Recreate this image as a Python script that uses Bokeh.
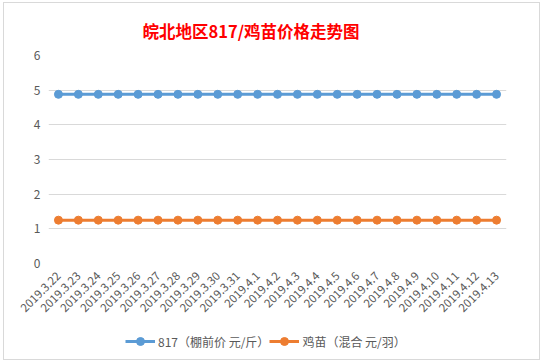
import math
from bokeh.plotting import figure
from bokeh.layouts import column
from bokeh.models import Legend, LegendItem, Range1d, FixedTicker
from bokeh.embed import file_html
from bokeh.resources import INLINE

dates = ["2019.3.22", "2019.3.23", "2019.3.24", "2019.3.25", "2019.3.26",
         "2019.3.27", "2019.3.28", "2019.3.29", "2019.3.30", "2019.3.31",
         "2019.4.1", "2019.4.2", "2019.4.3", "2019.4.4", "2019.4.5",
         "2019.4.6", "2019.4.7", "2019.4.8", "2019.4.9", "2019.4.10",
         "2019.4.11", "2019.4.12", "2019.4.13"]
price_817 = [4.88, 4.88, 4.88, 4.88, 4.88, 4.88, 4.88, 4.88, 4.88, 4.88,
             4.88, 4.88, 4.88, 4.88, 4.88, 4.88, 4.88, 4.88, 4.88, 4.88,
             4.88, 4.88, 4.88]
price_chick = [1.25, 1.25, 1.25, 1.25, 1.25, 1.25, 1.25, 1.25, 1.25, 1.25,
               1.25, 1.25, 1.25, 1.25, 1.25, 1.25, 1.25, 1.25, 1.25, 1.25,
               1.25, 1.25, 1.25]
y_ticks = [0, 1, 2, 3, 4, 5, 6]
series_names = ["817（棚前价 元/斤）", "鸡苗（混合 元/羽）"]
title_text = "皖北地区817/鸡苗价格走势图"

BLUE = "#5B9BD5"
ORANGE = "#ED7D31"
GRAY = "#595959"
FONT = "Noto Sans CJK SC"

p = figure(width=535, height=326, x_range=dates, y_range=Range1d(0, 6),
           output_backend="svg", toolbar_location=None,
           min_border_left=44, min_border_right=33, min_border_top=52,
           min_border_bottom=66)

p.title.text = title_text
p.title.text_color = "#FF0000"
p.title.text_font = FONT
p.title.text_font_size = "16.5px"
p.title.text_font_style = "bold"
p.title.align = "left"
p.title.offset = 94
p.title.standoff = 26

p.outline_line_color = None
p.xgrid.grid_line_color = None
p.ygrid.grid_line_color = "#d9d9d9"
p.ygrid.grid_line_width = 1

p.yaxis.ticker = FixedTicker(ticks=y_ticks)
p.yaxis.axis_line_color = None
p.yaxis.major_tick_line_color = None
p.yaxis.minor_tick_line_color = None
p.yaxis.major_tick_out = 0
p.yaxis.major_label_text_color = GRAY
p.yaxis.major_label_text_font = FONT
p.yaxis.major_label_text_font_size = "12px"
p.yaxis.major_label_standoff = 8

p.xaxis.axis_line_color = None
p.xaxis.major_tick_line_color = None
p.xaxis.major_tick_out = 0
p.xaxis.major_label_orientation = math.pi / 4
p.xaxis.major_label_text_color = GRAY
p.xaxis.major_label_text_font = FONT
p.xaxis.major_label_text_font_size = "11.5px"
p.xaxis.major_label_standoff = 10

l1 = p.line(dates, price_817, line_color=BLUE, line_width=3)
s1 = p.scatter(dates, price_817, size=8, fill_color=BLUE, line_color=BLUE)
l2 = p.line(dates, price_chick, line_color=ORANGE, line_width=3)
s2 = p.scatter(dates, price_chick, size=8, fill_color=ORANGE, line_color=ORANGE)

# legend strip below the chart: same series, drawn outside its visible range
lp = figure(width=535, height=30, output_backend="svg", toolbar_location=None,
            x_range=p.x_range, y_range=Range1d(100, 101),
            x_axis_type=None, y_axis_type=None, min_border=0)
lp.outline_line_color = None
ll1 = lp.line(dates, price_817, line_color=BLUE, line_width=3)
ls1 = lp.scatter(dates, price_817, size=8, fill_color=BLUE, line_color=BLUE)
ll2 = lp.line(dates, price_chick, line_color=ORANGE, line_width=3)
ls2 = lp.scatter(dates, price_chick, size=8, fill_color=ORANGE, line_color=ORANGE)

legend = Legend(items=[LegendItem(label=series_names[0], renderers=[ll1, ls1]),
                       LegendItem(label=series_names[1], renderers=[ll2, ls2])],
                orientation="horizontal", location=(77, 8),
                border_line_color=None, background_fill_alpha=0,
                label_text_font=FONT, label_text_font_size="12px",
                label_text_color=GRAY, glyph_width=30, label_standoff=3,
                spacing=0, padding=2, margin=0)
lp.add_layout(legend, "center")

layout = column(p, lp, spacing=0,
                styles={"border": "1px solid #d9d9d9", "margin-left": "3px",
                        "margin-top": "2px"})

open("out.html", "w").write(file_html(layout, INLINE))
